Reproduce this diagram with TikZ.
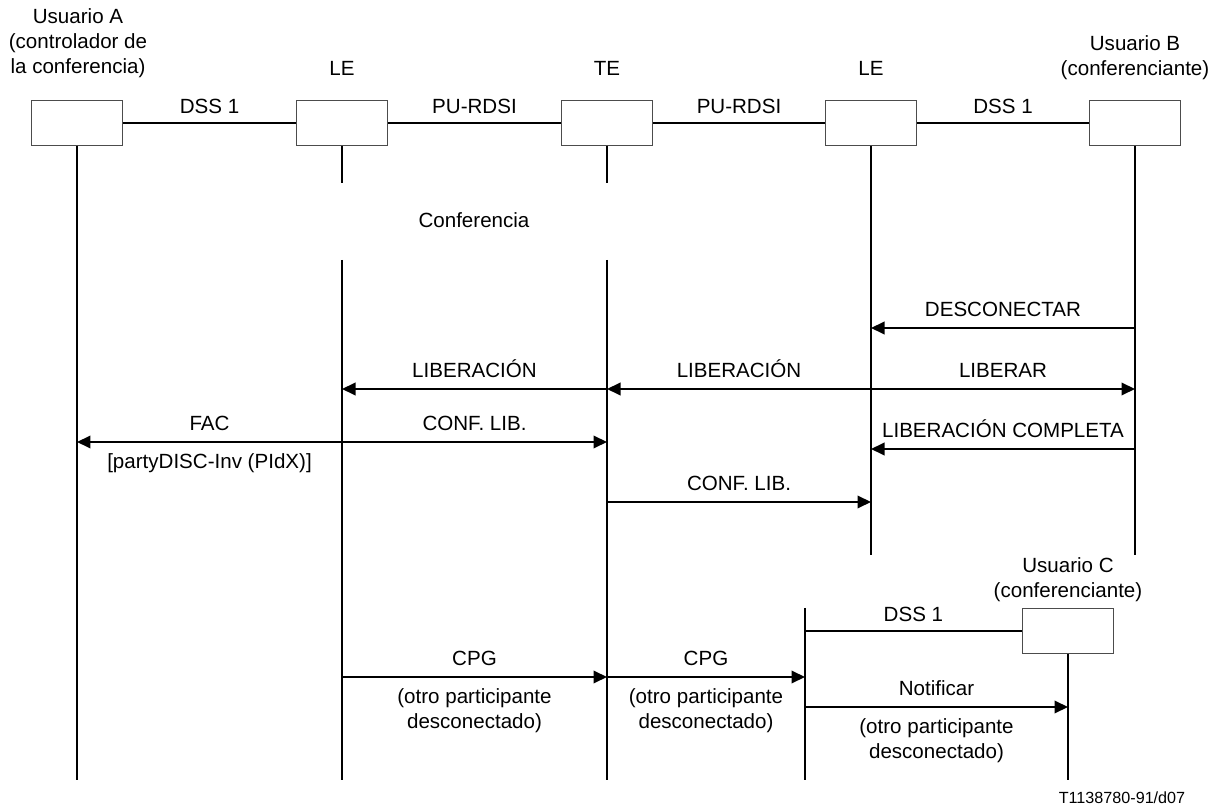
\documentclass[tikz,border=0pt]{standalone}
\usepackage{fontspec}
\setmainfont{Liberation Sans}
\usetikzlibrary{arrows.meta}

\begin{document}
\begin{tikzpicture}[x=0.02cm, y=-0.02cm,
  box/.style={draw=black!70, line width=0.8pt, minimum width=1.82cm, minimum height=0.9cm, inner sep=0pt},
  life/.style={line width=1.1pt},
  msg/.style={line width=1.1pt, -{Triangle[length=0.27cm, width=0.25cm]}},
  txt/.style={font=\fontsize{11.7}{14.2}\selectfont, align=center, inner sep=0pt}]
\useasboundingbox (0,0) rectangle (1224,810);

\node [box] (UA) at (77,123) {};
\node [box] (LEa) at (342,123) {};
\node [box] (TE) at (607,123) {};
\node [box] (LEb) at (871,123) {};
\node [box] (UB) at (1135,123) {};
\node [box] (UC) at (1068,631) {};
\coordinate (LEc) at (805,608);

\node [txt] (UAname) at (78,43) {Usuario A\\(controlador de\\la conferencia)};
\node [txt] (LEaname) at (342,68) {LE};
\node [txt] (TEname) at (607,68) {TE};
\node [txt] (LEbname) at (871,68) {LE};
\node [txt] (UBname) at (1135,58) {Usuario B\\(conferenciante)};
\node [txt] (UCname) at (1068,580) {Usuario C\\(conferenciante)};
\node [txt] (conf) at (474,220) {Conferencia};
\node [txt, font=\fontsize{9.2}{11}\selectfont] (figno) at (1122,798) {T1138780-91/d07};

\coordinate (rGapTop) at (0,183);
\coordinate (rGapBot) at (0,260);
\coordinate (rDisc) at (0,328);
\coordinate (rLib) at (0,389);
\coordinate (rFac) at (0,442);
\coordinate (rLibC) at (0,449);
\coordinate (rConf) at (0,502);
\coordinate (rStop) at (0,555);
\coordinate (rDss) at (0,631);
\coordinate (rCpg) at (0,677);
\coordinate (rNot) at (0,707);
\coordinate (rEnd) at (0,780);

% links between the boxes
\draw [life] (UA) -- node [txt, above=4.5pt] {DSS 1} (LEa);
\draw [life] (LEa) -- node [txt, above=4.5pt] {PU-RDSI} (TE);
\draw [life] (TE) -- node [txt, above=4.5pt] {PU-RDSI} (LEb);
\draw [life] (LEb) -- node [txt, above=4.5pt] {DSS 1} (UB);
\draw [life] (LEc |- rDss) -- node [txt, above=4.5pt] {DSS 1} (UC);

% lifelines
\draw [life] (UA.south) -- (UA |- rEnd);
\draw [life] (LEa.south) -- (LEa |- rGapTop);
\draw [life] (LEa |- rGapBot) -- (LEa |- rEnd);
\draw [life] (TE.south) -- (TE |- rGapTop);
\draw [life] (TE |- rGapBot) -- (TE |- rEnd);
\draw [life] (LEb.south) -- (LEb |- rStop);
\draw [life] (UB.south) -- (UB |- rStop);
\draw [life] (LEc) -- (LEc |- rEnd);
\draw [life] (UC.south) -- (UC |- rEnd);

% messages
\draw [msg] (UB |- rDisc) -- node [txt, above=6pt] {DESCONECTAR} (LEb |- rDisc);
\draw [msg] (TE |- rLib) -- node [txt, above=6pt] {LIBERACIÓN} (LEa |- rLib);
\draw [msg] (LEb |- rLib) -- node [txt, above=6pt] {LIBERACIÓN} (TE |- rLib);
\draw [msg] (LEb |- rLib) -- node [txt, above=6pt] {LIBERAR} (UB |- rLib);
\draw [msg] (LEa |- rFac) -- node [txt, above=6pt] {FAC} node [txt, below=6pt] {[partyDISC-Inv (PIdX)]} (UA |- rFac);
\draw [msg] (LEa |- rFac) -- node [txt, above=6pt] {CONF. LIB.} (TE |- rFac);
\draw [msg] (UB |- rLibC) -- node [txt, above=6pt] {LIBERACIÓN COMPLETA} (LEb |- rLibC);
\draw [msg] (TE |- rConf) -- node [txt, above=6pt] {CONF. LIB.} (LEb |- rConf);
\draw [msg] (LEa |- rCpg) -- node [txt, above=6pt] {CPG} node [txt, below=6pt] {(otro participante\\desconectado)} (TE |- rCpg);
\draw [msg] (TE |- rCpg) -- node [txt, above=6pt] {CPG} node [txt, below=6pt] {(otro participante\\desconectado)} (LEc |- rCpg);
\draw [msg] (LEc |- rNot) -- node [txt, above=6pt] {Notificar} node [txt, below=6pt] {(otro participante\\desconectado)} (UC |- rNot);

\end{tikzpicture}
\end{document}
